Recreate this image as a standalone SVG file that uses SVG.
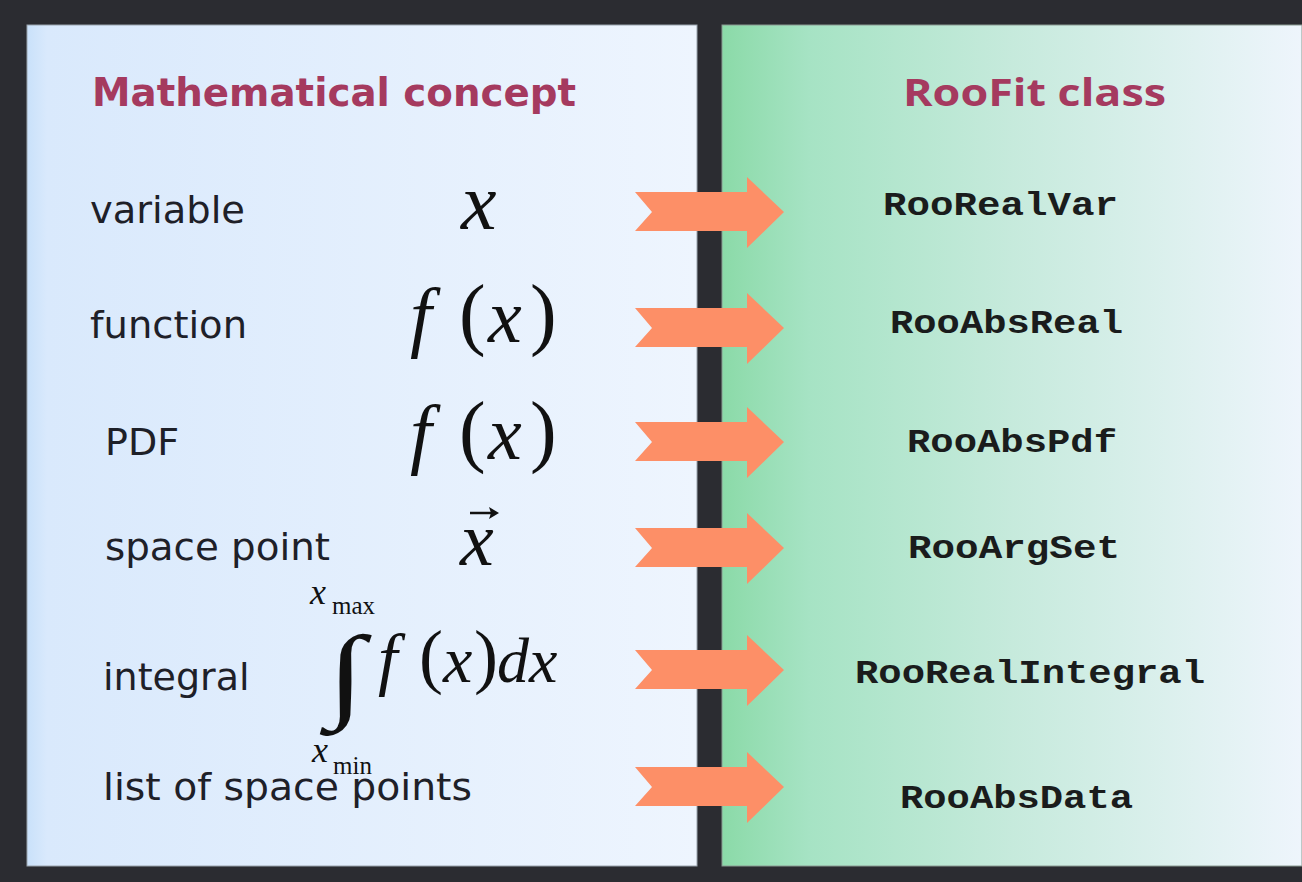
<svg xmlns="http://www.w3.org/2000/svg" width="1302" height="882" viewBox="0 0 1302 882">
<defs>
<linearGradient id="gl" x1="0" y1="0" x2="1" y2="0">
<stop offset="0" stop-color="#c9e1fa"/>
<stop offset="0.03" stop-color="#d9e9fc"/>
<stop offset="1" stop-color="#eef5fe"/>
</linearGradient>
<linearGradient id="gr" x1="0" y1="0" x2="1" y2="0">
<stop offset="0" stop-color="#8bdaa8"/>
<stop offset="0.15" stop-color="#a6e3c4"/>
<stop offset="0.5" stop-color="#c6eadc"/>
<stop offset="1" stop-color="#eef5fc"/>
</linearGradient>
<polygon id="arr" points="635,-20 747,-20 747,-35 784,0 747,36 747,19 635,19 652,0"/>
</defs>
<style>
.hdr{font-family:"DejaVu Sans",Verdana,sans-serif;font-weight:bold;font-size:39px;fill:#a53a5f}
.hdr2{font-family:"Open Sans","DejaVu Sans",sans-serif;font-weight:700;font-size:38px;fill:#a53a5f}
.lbl{font-family:"DejaVu Sans",Verdana,sans-serif;font-size:38px;fill:#1e2028}
.cls{font-family:"Liberation Mono","Courier New",monospace;font-weight:bold;font-size:34px;fill:#1a1c1c}
.m{font-family:"Liberation Serif","Times New Roman",serif;font-style:italic;fill:#111}
.mu{font-family:"Liberation Serif","Times New Roman",serif;fill:#111}
.arrow{fill:#fd8f67}
</style>
<rect x="0" y="0" width="1302" height="882" fill="#2b2c31"/>
<rect x="27" y="25" width="670" height="841" fill="url(#gl)" stroke="#9aa3ad" stroke-width="1"/>
<rect x="722" y="25" width="580" height="841" fill="url(#gr)" stroke="#8a9a92" stroke-width="1"/>
<g id="header-math"><text class="hdr" x="92" y="106" textLength="484" lengthAdjust="spacingAndGlyphs">Mathematical concept</text></g>
<g id="header-roofit"><text class="hdr2" x="903" y="106" textLength="263" lengthAdjust="spacingAndGlyphs">RooFit class</text></g>

<g id="variable">
<text class="lbl" x="90" y="223" textLength="155" lengthAdjust="spacingAndGlyphs">variable</text>
<text class="m" x="461" y="229" font-size="80">x</text>
</g>
<g id="function">
<text class="lbl" x="90" y="338" textLength="157" lengthAdjust="spacingAndGlyphs">function</text>
<text class="m" x="410" y="342" font-size="78">f</text>
<text class="mu" x="459" y="340" font-size="80">(</text>
<text class="m" x="488" y="342" font-size="76">x</text>
<text class="mu" x="530" y="340" font-size="80">)</text>
</g>
<g id="pdf">
<text class="lbl" x="105" y="455">PDF</text>
<text class="m" x="410" y="459" font-size="78">f</text>
<text class="mu" x="459" y="457" font-size="80">(</text>
<text class="m" x="488" y="459" font-size="76">x</text>
<text class="mu" x="530" y="457" font-size="80">)</text>
</g>
<g id="space-point">
<text class="lbl" x="105" y="560" textLength="225" lengthAdjust="spacingAndGlyphs">space point</text>
<text class="m" x="460" y="565" font-size="76">x</text>
<line x1="470" y1="513" x2="493" y2="513" stroke="#111" stroke-width="2.5"/>
<polygon points="499,513 489,507 491,513 489,519" fill="#111"/>
</g>
<g id="integral">
<text class="lbl" x="103" y="690">integral</text>
<text class="m" x="310" y="604" font-size="36">x</text>
<text class="mu" x="332" y="614" font-size="25">max</text>
<text class="mu" font-size="110" transform="translate(327,708) scale(1.25,0.95)">∫</text>
<text class="m" x="378" y="682" font-size="70">f</text>
<text class="mu" x="419" y="680" font-size="72">(</text>
<text class="m" x="443" y="682" font-size="66">x</text>
<text class="mu" x="474" y="680" font-size="72">)</text>
<text class="m" x="497" y="682" font-size="64">dx</text>
<text class="m" x="312" y="762" font-size="36">x</text>
<text class="mu" x="333" y="774" font-size="25">min</text>
</g>
<g id="list-of-space-points">
<text class="lbl" x="103" y="800" textLength="369" lengthAdjust="spacingAndGlyphs">list of space points</text>
</g>

<g id="connectors" class="arrow">
<use href="#arr" y="212"/>
<use href="#arr" y="328"/>
<use href="#arr" y="442"/>
<use href="#arr" y="548"/>
<use href="#arr" y="670"/>
<use href="#arr" y="787"/>
</g>

<g id="RooRealVar"><text class="cls" x="883" y="215" textLength="235" lengthAdjust="spacingAndGlyphs">RooRealVar</text></g>
<g id="RooAbsReal"><text class="cls" x="890" y="333" textLength="233" lengthAdjust="spacingAndGlyphs">RooAbsReal</text></g>
<g id="RooAbsPdf"><text class="cls" x="907" y="452" textLength="210" lengthAdjust="spacingAndGlyphs">RooAbsPdf</text></g>
<g id="RooArgSet"><text class="cls" x="908" y="558" textLength="212" lengthAdjust="spacingAndGlyphs">RooArgSet</text></g>
<g id="RooRealIntegral"><text class="cls" x="855" y="683" textLength="350" lengthAdjust="spacingAndGlyphs">RooRealIntegral</text></g>
<g id="RooAbsData"><text class="cls" x="900" y="808" textLength="233" lengthAdjust="spacingAndGlyphs">RooAbsData</text></g>
</svg>
